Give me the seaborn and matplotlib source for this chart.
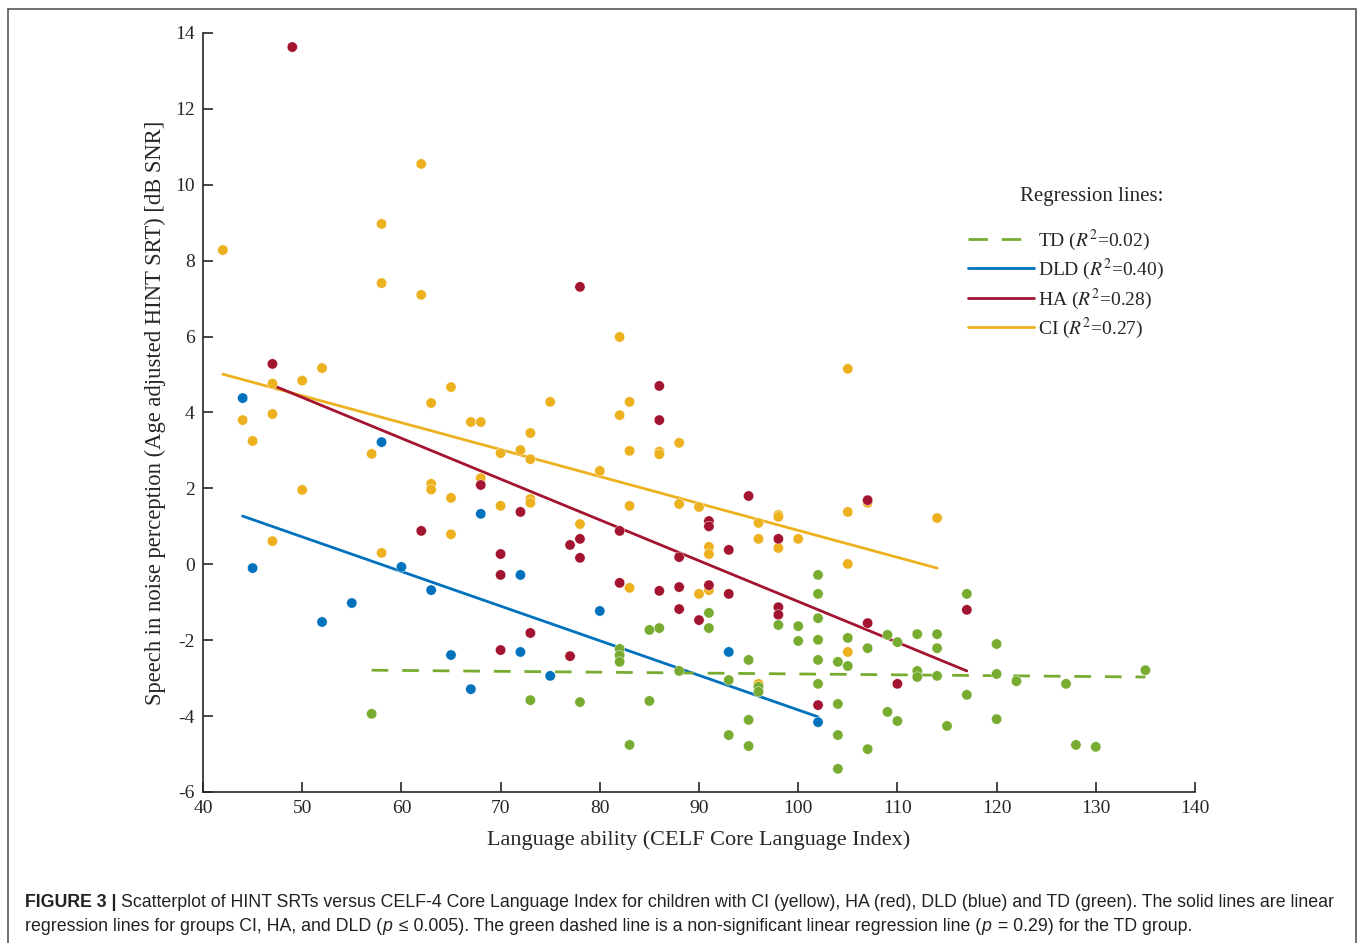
import numpy as np
import pandas as pd
import seaborn as sns
import matplotlib.patches as mpatches
from matplotlib import pyplot as plt
from matplotlib.lines import Line2D

# CI (yellow)
ci_x = [42, 44, 45, 47, 47, 47, 50, 50, 52, 57, 58, 58, 58, 62, 62, 63, 63, 63,
        65, 65, 65, 67, 68, 68, 70, 70, 72, 73, 73, 73, 73, 75, 78, 80, 82, 82,
        83, 83, 83, 83, 86, 86, 88, 88, 90, 90, 91, 91, 91, 96, 96, 96, 98, 98,
        98, 100, 105, 105, 105, 105, 107, 114]
ci_y = [8.28, 3.80, 3.25, 4.76, 3.96, 0.61, 4.84, 1.96, 5.17, 2.91, 8.97, 7.41, 0.30,
        10.55, 7.10, 4.25, 2.12, 1.97, 4.67, 1.75, 0.79, 3.75, 3.75, 2.27, 2.93, 1.54,
        3.01, 3.46, 2.77, 1.72, 1.62, 4.28, 1.06, 2.46, 5.99, 3.93, 4.28, 2.99, 1.54,
        -0.62, 2.97, 2.90, 3.20, 1.59, 1.51, -0.78, 0.46, 0.27, -0.68, 1.09, 0.67,
        -3.15, 1.30, 1.25, 0.43, 0.67, 5.15, 1.38, 0.01, -2.31, 1.62, 1.22]

# HA (red)
ha_x = [47, 49, 62, 68, 70, 70, 70, 72, 73, 77, 77, 78, 78, 78, 82, 82, 86, 86, 86,
        88, 88, 88, 90, 91, 91, 91, 93, 93, 95, 98, 98, 98, 102, 107, 107, 110, 117]
ha_y = [5.28, 13.63, 0.88, 2.09, 0.27, -0.28, -2.26, 1.38, -1.81, 0.51, -2.42, 7.31,
        0.67, 0.17, 0.88, -0.49, 4.70, 3.80, -0.70, 0.19, -0.60, -1.18, -1.47, 1.14,
        1.00, -0.55, 0.38, -0.78, 1.80, 0.67, -1.13, -1.33, -3.71, 1.69, -1.55,
        -3.15, -1.20]

# DLD (blue)
dld_x = [44, 45, 52, 55, 58, 60, 63, 65, 67, 68, 72, 72, 75, 80, 93, 102]
dld_y = [4.38, -0.10, -1.52, -1.02, 3.22, -0.07, -0.68, -2.39, -3.29, 1.33, -0.28,
         -2.31, -2.94, -1.23, -2.31, -4.16]

# TD (green)
td_x = [57, 73, 78, 82, 82, 82, 83, 85, 85, 86, 88, 91, 91, 93, 93, 95, 95, 95, 96,
        96, 98, 100, 100, 102, 102, 102, 102, 102, 102, 104, 104, 104, 104, 105, 105,
        107, 107, 109, 109, 110, 110, 112, 112, 112, 114, 114, 114, 115, 117, 117,
        120, 120, 120, 122, 127, 128, 130, 135]
td_y = [-3.94, -3.58, -3.63, -2.23, -2.40, -2.57, -4.76, -1.73, -3.60, -1.68, -2.81,
        -1.28, -1.68, -3.05, -4.50, -2.52, -4.10, -4.79, -3.23, -3.36, -1.60, -1.63,
        -2.02, -0.28, -0.78, -1.42, -1.99, -2.52, -3.15, -2.57, -3.68, -4.50, -5.39,
        -1.94, -2.68, -2.21, -4.87, -1.86, -3.89, -2.05, -4.13, -1.84, -2.81, -2.97,
        -1.84, -2.21, -2.94, -4.26, -0.78, -3.44, -2.10, -2.89, -4.08, -3.08, -3.15,
        -4.76, -4.81, -2.79]

# regression line end points
groups = ["CI", "HA", "DLD", "TD"]
line_x = {"CI": [42, 114], "HA": [47, 117], "DLD": [44, 102], "TD": [57, 135]}
line_y = {"CI": [5.01, -0.10], "HA": [4.72, -2.81], "DLD": [1.27, -4.02], "TD": [-2.79, -2.97]}
r2 = {"TD": "0.02", "DLD": "0.40", "HA": "0.28", "CI": "0.27"}

colors = {"CI": "#EDB120", "HA": "#A2142F", "DLD": "#0072BD", "TD": "#77AC30"}

sns.set_theme(style="ticks")
plt.rcParams["font.family"] = ["Liberation Serif", "DejaVu Serif"]
plt.rcParams["mathtext.fontset"] = "stix"
plt.rcParams["axes.unicode_minus"] = False

W, H = 1357, 943
fig = plt.figure(figsize=(W / 100, H / 100), dpi=100)
ax = fig.add_axes([203 / W, 1 - 792 / H, (1195 - 203) / W, (792 - 33) / H])

df = pd.concat([
    pd.DataFrame({"x": ci_x, "y": ci_y, "group": "CI"}),
    pd.DataFrame({"x": ha_x, "y": ha_y, "group": "HA"}),
    pd.DataFrame({"x": dld_x, "y": dld_y, "group": "DLD"}),
    pd.DataFrame({"x": td_x, "y": td_y, "group": "TD"}),
], ignore_index=True)

for g in groups:
    if g == "TD":
        ax.plot(line_x[g], line_y[g], color=colors[g], lw=2.0, ls="--",
                dashes=(6, 5), zorder=2)
    else:
        ax.plot(line_x[g], line_y[g], color=colors[g], lw=2.0, zorder=2)

sns.scatterplot(data=df, x="x", y="y", hue="group", palette=colors, s=55,
                edgecolor="white", linewidth=0.3, legend=False, ax=ax, zorder=3)

ax.set_xlim(40, 140)
ax.set_ylim(-6, 14)
ax.set_xticks(np.arange(40, 141, 10))
ax.set_yticks(np.arange(-6, 15, 2))
sns.despine(ax=ax)
axcol = "#262626"
for sp in ["left", "bottom"]:
    ax.spines[sp].set_color(axcol)
    ax.spines[sp].set_linewidth(1.2)
ax.tick_params(direction="in", length=7, width=1.2, color=axcol, labelcolor=axcol,
               labelsize=14, pad=6)

ax.set_xlabel("Language ability (CELF Core Language Index)", fontsize=16, color=axcol)
ax.set_ylabel("Speech in noise perception (Age adjusted HINT SRT) [dB SNR]",
              fontsize=16.3, color=axcol)
ax.xaxis.set_label_coords(0.5, -0.05)
ax.yaxis.set_label_coords(-0.037, 0.5)

handles = []
labels = []
for g in ["TD", "DLD", "HA", "CI"]:
    if g == "TD":
        h = Line2D([], [], color=colors[g], lw=2.0, ls="--", dashes=(7, 5))
    else:
        h = Line2D([], [], color=colors[g], lw=2.0)
    handles.append(h)
    labels.append(f"{g} ($R^2$=" + r2[g] + ")")
leg = ax.legend(handles, labels, loc="upper left",
                bbox_to_anchor=(950 / W, 1 - 210 / H), bbox_transform=fig.transFigure,
                frameon=False, fontsize=14, handlelength=3.4,
                handletextpad=0.25, labelspacing=0.22, labelcolor=axcol)
fig.text(1163 / W, 1 - 197 / H, "Regression lines:", ha="right", va="center",
         fontsize=15, color=axcol)

# outer frame
fig.patches.append(mpatches.Rectangle((8 / W, -0.05), (1356 - 8) / W, 1.05 - 9 / H,
                                      transform=fig.transFigure, fill=False,
                                      edgecolor="#555555", lw=1.2))

# caption, written piece by piece so the bold / italic parts line up
cap = ["Liberation Sans", "DejaVu Sans"]
capsize = 12.8
fig.canvas.draw()
renderer = fig.canvas.get_renderer()


def caption_line(parts, y):
    x = 25 / W
    for txt, kw in parts:
        t = fig.text(x, 1 - y / H, txt, fontsize=capsize, family=cap, color="#222222",
                     va="baseline", **kw)
        bb = t.get_window_extent(renderer=renderer)
        x = bb.x1 / W + (2 / W if kw.get("style") == "italic" else 0)


caption_line([
    ("FIGURE 3 | ", {"fontweight": "bold"}),
    ("Scatterplot of HINT SRTs versus CELF-4 Core Language Index for children with CI "
     "(yellow), HA (red), DLD (blue) and TD (green). The solid lines are linear", {}),
], 907)
caption_line([
    ("regression lines for groups CI, HA, and DLD (", {}),
    ("p", {"style": "italic"}),
    (" \u2264 0.005). The green dashed line is a non-significant linear regression line (", {}),
    ("p", {"style": "italic"}),
    (" = 0.29) for the TD group.", {}),
], 931)

fig.savefig("out.png", dpi=100, facecolor="white")
